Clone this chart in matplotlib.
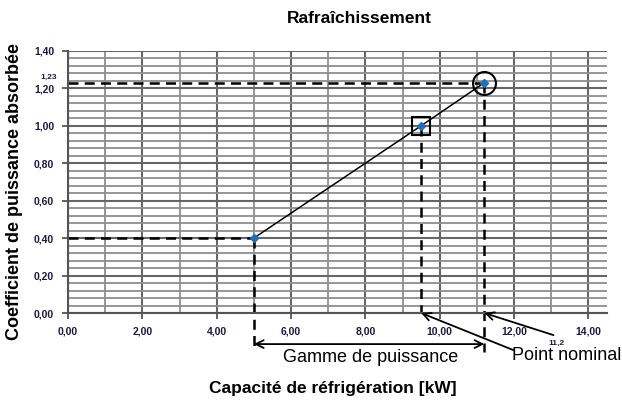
import matplotlib
matplotlib.use("Agg")
import matplotlib.pyplot as plt
from matplotlib.ticker import MultipleLocator, FuncFormatter

# data
capacite = [5.0, 9.5, 11.2]
coeff = [0.40, 1.00, 1.23]
x_ticks = [0, 2, 4, 6, 8, 10, 12, 14]
y_ticks = [0.0, 0.2, 0.4, 0.6, 0.8, 1.0, 1.2, 1.4]

plt.rcParams['font.family'] = ['Liberation Sans', 'DejaVu Sans']

fig = plt.figure(figsize=[6.22, 4.03], dpi=100)
ax = fig.add_axes([0.1093, 0.2233, 0.8666, 0.6505])

ax.set_xlim(0, 14.5)
ax.set_ylim(0, 1.4)

# grid
ax.set_xticks(x_ticks)
ax.set_yticks(y_ticks)
ax.xaxis.set_minor_locator(MultipleLocator(1))
ax.yaxis.set_minor_locator(MultipleLocator(0.04))
ax.grid(which='major', color='#666666', linewidth=1.5)
ax.grid(which='minor', color='#8e8e8e', linewidth=1.3)
ax.set_axisbelow(True)

fmt = FuncFormatter(lambda v, p: f"{v:.2f}".replace('.', ','))
ax.xaxis.set_major_formatter(fmt)
ax.yaxis.set_major_formatter(fmt)
ax.tick_params(which='major', length=4, width=1.3, color='#555555',
               labelsize=7.5, labelcolor='#1a1a40', pad=6)
ax.tick_params(which='minor', length=0)
for lab in ax.get_xticklabels() + ax.get_yticklabels():
    lab.set_fontweight('bold')

ax.spines[['top', 'right']].set_visible(False)
ax.spines[['left', 'bottom']].set_color('#555555')
ax.spines[['left', 'bottom']].set_linewidth(1.5)

# dashed guides
dash = dict(color='black', linestyle=(0, (4, 2.5)), linewidth=1.8, clip_on=False)
ax.plot([0, capacite[0]], [coeff[0], coeff[0]], **dash)
ax.plot([0, capacite[2]], [coeff[2], coeff[2]], **dash)
ax.plot([capacite[0], capacite[0]], [coeff[0], -0.2], **dash)
ax.plot([capacite[1], capacite[1]], [coeff[1], 0.0], **dash)
ax.plot([capacite[2], capacite[2]], [coeff[2], -0.21], **dash)

# curve
ax.plot(capacite, coeff, color='black', linewidth=1.1, zorder=4)
ax.plot(capacite, coeff, linestyle='none', marker='D', markersize=4.5,
        color='#1f6fbf', zorder=5)
ax.plot(capacite[1], coeff[1], linestyle='none', marker='s', markersize=13,
        markerfacecolor='none', markeredgecolor='black', markeredgewidth=1.5, zorder=6)
ax.plot(capacite[2], coeff[2], linestyle='none', marker='o', markersize=16.5,
        markerfacecolor='none', markeredgecolor='black', markeredgewidth=1.5, zorder=6)

# range arrow
ax.annotate('', xy=(capacite[0], -0.166), xytext=(capacite[2], -0.166),
            xycoords='data', annotation_clip=False,
            arrowprops=dict(arrowstyle='<->', color='black', lw=1.3,
                            shrinkA=0, shrinkB=0, mutation_scale=14))
ax.text(8.15, -0.235, 'Gamme de puissance', ha='center', va='center',
        fontsize=13, clip_on=False)

# nominal point arrows
ax.annotate('', xy=(capacite[1], 0.0), xytext=(11.98, -0.198),
            annotation_clip=False,
            arrowprops=dict(arrowstyle='->', color='black', lw=1.3,
                            shrinkA=0, shrinkB=0, mutation_scale=14))
ax.annotate('', xy=(capacite[2], 0.0), xytext=(13.06, -0.118),
            annotation_clip=False,
            arrowprops=dict(arrowstyle='->', color='black', lw=1.3,
                            shrinkA=0, shrinkB=0, mutation_scale=14))
ax.text(11.95, -0.225, 'Point nominal', ha='left', va='center',
        fontsize=13, clip_on=False)

# small value labels
ax.text(-0.3, 1.26, '1,23', ha='right', va='center', fontsize=6,
        fontweight='bold', color='#1a1a40', clip_on=False)
ax.text(13.15, -0.16, '11,2', ha='center', va='center', fontsize=6,
        fontweight='bold', color='#1a1a40', clip_on=False)

fig.text(0.577, 0.955, 'Rafraîchissement', ha='center', va='center',
         fontsize=12.5, fontweight='bold')
fig.text(0.535, 0.037, 'Capacité de réfrigération [kW]', ha='center',
         va='center', fontsize=12.5, fontweight='bold')
fig.text(0.024, 0.526, 'Coefficient de puissance absorbée', ha='center',
         va='center', rotation=90, fontsize=13, fontweight='bold')

fig.savefig('out.png', dpi=100)
